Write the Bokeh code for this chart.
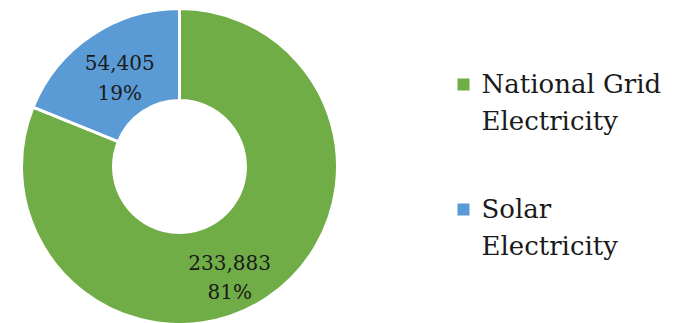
import math
from bokeh.plotting import figure
from bokeh.models import Range1d, ColumnDataSource
from bokeh.core.properties import value
from bokeh.embed import file_html
from bokeh.resources import INLINE

# data
categories = ["National Grid Electricity", "Solar Electricity"]
legend_labels = ["National Grid\nElectricity", "Solar\nElectricity"]
values = [233883, 54405]
colors = ["#70AD47", "#5B9BD5"]

W, H = 685, 323
FONT = "DejaVu Serif"

p = figure(width=W, height=H, output_backend="svg", toolbar_location=None,
           x_range=Range1d(0, W), y_range=Range1d(0, H), min_border=0,
           outline_line_color=None, background_fill_color="white")
p.axis.visible = False
p.grid.visible = False

total = sum(values)
fracs = [v / total for v in values]
starts, ends, mids = [], [], []
a = math.pi / 2
for f in fracs:
    s = a
    e = a - f * 2 * math.pi
    starts.append(s)
    ends.append(e)
    mids.append((s + e) / 2)
    a = e

cx, cy = 179, 157
r_out, r_in = 158, 66

src = ColumnDataSource(dict(start=starts, end=ends, color=colors, cat=categories))
p.annular_wedge(x=cx, y=cy, inner_radius=r_in, outer_radius=r_out,
                start_angle="start", end_angle="end", direction="clock",
                fill_color="color", line_color="white", line_width=3, source=src)

# data labels
label_r = [122, 107]
label_dx = [-18, 0]
label_dy = [-10, 0]
label_text = [f"{v:,}\n{round(f*100)}%" for v, f in zip(values, fracs)]
lx = [cx + r * math.cos(m) + d for r, m, d in zip(label_r, mids, label_dx)]
ly = [cy + r * math.sin(m) + d for r, m, d in zip(label_r, mids, label_dy)]
p.text(x=lx, y=ly, text=label_text, text_align="center", text_baseline="middle",
       text_font=value(FONT), text_font_size="20px", text_color="#1a1a1a",
       text_line_height=1.23)

# legend
leg_x = 463
leg_y = [239, 114]
p.scatter(x=[leg_x] * 2, y=leg_y, marker="square", size=12, fill_color=colors,
          line_color=None)
p.text(x=[leg_x + 18] * 2, y=[y + 16 for y in leg_y], text=legend_labels,
       text_align="left", text_baseline="top", text_font=value(FONT),
       text_font_size="26px", text_color="#1a1a1a", text_line_height=1.24)

open("out.html", "w").write(file_html(p, INLINE))
